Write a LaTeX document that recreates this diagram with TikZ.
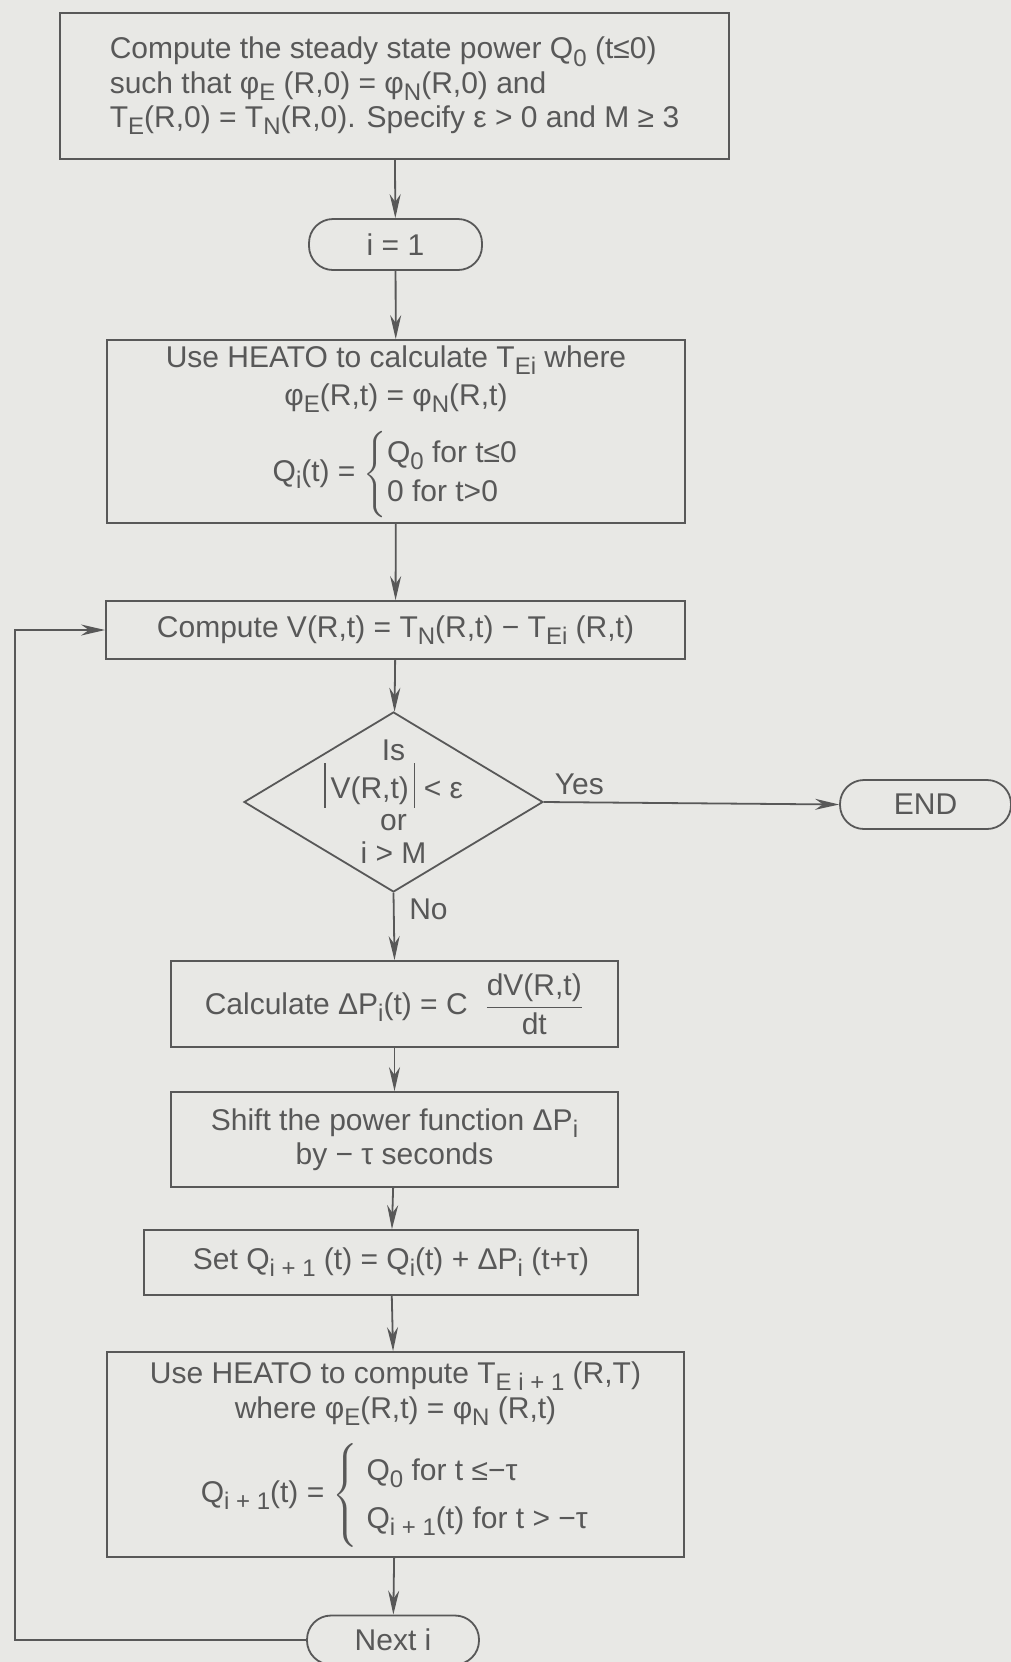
\documentclass[tikz,border=0pt]{standalone}
\usepackage{amsmath}
\usepackage{fontspec}
\setmainfont{Liberation Sans}
\usetikzlibrary{arrows.meta,shapes.geometric}
\definecolor{scan}{RGB}{232,232,229}
\definecolor{ink}{RGB}{88,88,88}
% lowered index, as in the scanned chart
\newcommand{\lo}[1]{\raisebox{-0.45ex}{\fontsize{12}{12}\selectfont #1}}
\newcommand{\vbar}{\rule[-0.6ex]{0.8pt}{2.8ex}}
\begin{document}
\begin{tikzpicture}[x=0.5pt,y=-0.5pt,
  font=\fontsize{15}{17.2}\selectfont, text=ink,
  box/.style={draw=ink, line width=0.9pt, align=center, inner sep=0pt},
  term/.style={box, rounded corners=12pt},
  decision/.style={draw=ink, line width=0.9pt, diamond, inner sep=0pt},
  flow/.style={draw=ink, line width=0.9pt, -{Stealth[length=12pt,width=5.5pt]}}]
\fill[scan] (0,0) rectangle (1011,1662);
\useasboundingbox (0,0) rectangle (1011,1662);
% Boxes of the chart
\node[box, align=left, minimum width=334.5pt, minimum height=73pt] (init) at (394.5,86)
  {Compute the steady state power Q\lo{0} (t≤0)\\
   such that φ\lo{E} (R,0) = φ\lo{N}(R,0) and\\
   T\lo{E}(R,0) = T\lo{N}(R,0). Specify ε > 0 and M ≥ 3};
\node[term, minimum width=86.5pt, minimum height=25.5pt] (ione) at (395.5,244.5) {i = 1};
\node[box, minimum width=289pt, minimum height=91.5pt] (heatA) at (396,431.5)
  {Use HEATO to calculate T\lo{Ei} where\\[2pt]
   φ\lo{E}(R,t) = φ\lo{N}(R,t)\\[8pt]
   Q\lo{i}(t) = $\left\{\renewcommand{\arraystretch}{1.15}\begin{array}{@{}l@{}}
     \text{Q\lo{0} for t≤0}\\ \text{0 for t>0}\end{array}\right.$};
\node[box, minimum width=289.5pt, minimum height=29pt] (compV) at (395.5,630)
  {Compute V(R,t) = T\lo{N}(R,t) − T\lo{Ei} (R,t)};
\node[decision, minimum width=149.5pt, minimum height=90pt] (test) at (393.5,802) {};
\node[align=center, font=\fontsize{15}{16.4}\selectfont] (testtxt) at (test)
  {Is\\ \vbar\,V(R,t)\,\vbar{} < ε\\ or\\ i > M};
\node[term, minimum width=85.5pt, minimum height=24.5pt] (stop) at (925.5,804.5) {END};
\node[box, minimum width=223.5pt, minimum height=43pt] (calc) at (394.5,1004)
  {Calculate ΔP\lo{i}(t) = C \ $\dfrac{\text{dV(R,t)}}{\text{dt}}$};
\node[box, minimum width=223.5pt, minimum height=47.5pt] (shift) at (394.5,1139.5)
  {Shift the power function ΔP\lo{i}\\ by − τ seconds};
\node[box, minimum width=247pt, minimum height=32.5pt] (setQ) at (391,1262.5)
  {Set Q\lo{i + 1} (t) = Q\lo{i}(t) + ΔP\lo{i} (t+τ)};
\node[box, minimum width=288.5pt, minimum height=102.5pt] (heatB) at (395.5,1454.5)
  {Use HEATO to compute T\lo{E i + 1} (R,T)\\
   where φ\lo{E}(R,t) = φ\lo{N} (R,t)\\[8pt]
   Q\lo{i + 1}(t) = $\left\{\renewcommand{\arraystretch}{1.4}\begin{array}{@{}l@{}}
     \text{\ Q\lo{0} for t ≤−τ}\\ \text{\ Q\lo{i + 1}(t) for t > −τ}\end{array}\right.$};
\node[term, minimum width=86pt, minimum height=24.5pt] (nexti) at (393,1640) {Next i};
% Connectors
\draw[flow] (init) -- (ione);
\draw[flow] (ione) -- (heatA);
\draw[flow] (heatA) -- (compV);
\draw[flow] (compV) -- (test);
\draw[flow] (test.east) -- node[above, pos=0.12] {Yes} (stop.west);
\draw[flow] (test.south) -- node[right, pos=0.24, xshift=4pt] {No} (calc.north);
\draw[flow] (calc) -- (shift);
\draw[flow] (shift) -- (setQ);
\draw[flow] (setQ) -- (heatB);
\draw[flow] (heatB) -- (nexti);
% Loop back to the comparison
\coordinate (back) at (15,630);
\draw[flow] (nexti.west) -| (back) -- (compV.west);
\end{tikzpicture}
\end{document}
